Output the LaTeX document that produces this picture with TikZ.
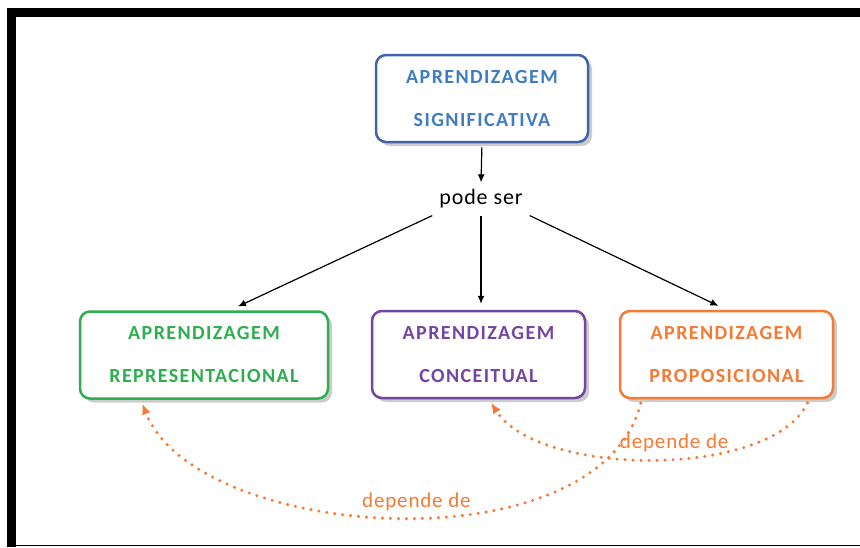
\documentclass[tikz,border=0pt]{standalone}
\usepackage{fontspec}
\setmainfont{Carlito}
\newfontfamily\largo[LetterSpace=7]{Carlito}
\newfontfamily\medio[LetterSpace=4]{Carlito}
\usepackage{tikz}
\usetikzlibrary{positioning,arrows.meta,shadows}
\usepackage{xcolor}
\definecolor{azulborda}{HTML}{4262AA}
\definecolor{azultexto}{HTML}{3F7CC2}
\definecolor{verde}{HTML}{2FAE50}
\definecolor{roxo}{HTML}{7446A0}
\definecolor{laranja}{HTML}{F47A36}

\begin{document}
\begin{tikzpicture}[x=1pt,y=-1pt,
    caixa/.style={draw, rounded corners=10pt, line width=2.5pt, fill=white,
        align=center, inner sep=0pt, minimum height=87pt,
        font=\largo\bfseries\fontsize{20}{43}\selectfont,
        drop shadow={shadow xshift=4pt, shadow yshift=-4pt, fill=black!40}},
    seta/.style={-{Latex[length=8pt,width=7pt]}, line width=1.2pt},
    depende/.style={draw=laranja, line width=3.4pt, line cap=round,
        dash pattern=on 0pt off 8pt, -{Latex[length=11pt,width=9pt]}},
    rotulo/.style={text=laranja, font=\medio\fontsize{21}{24}\selectfont}]
    \useasboundingbox (0,0) rectangle (860,547);
    % moldura
    \fill (7,8) rectangle (860,17);
    \fill (7,8) rectangle (16,547);
    \draw[line width=1.5pt] (16,545.5) -- (860,545.5);
    % conceito principal
    \node[caixa, draw=azulborda, text=azultexto, minimum width=212pt] (sig) at (482,98.5) {APRENDIZAGEM\\SIGNIFICATIVA};
    \node[font=\medio\fontsize{22}{26}\selectfont, inner sep=7pt] (pode) at (481,199) {pode ser};
    % tipos
    \node[caixa, draw=verde, text=verde, minimum width=248pt] (rep) at (204,355) {APRENDIZAGEM\\REPRESENTACIONAL};
    \node[caixa, draw=roxo, text=roxo, minimum width=213pt] (conc) at (478.5,354.5) {APRENDIZAGEM\\CONCEITUAL};
    \node[caixa, draw=laranja, text=laranja, minimum width=213pt] (prop) at (726.5,354.5) {APRENDIZAGEM\\PROPOSICIONAL};
    % setas
    \draw[seta, shorten <=4pt] (sig.south) -- (pode.north);
    \draw[seta, shorten >=9pt] (pode.south west) -- (rep.60);
    \draw[seta, shorten >=6pt] (pode.south) -- (pode.south |- conc.north);
    \draw[seta, shorten >=9pt] (pode.south east) -- (prop.north);
    % depende de
    \draw[depende, shorten <=4pt, shorten >=4pt] ([xshift=23pt]prop.south west)
        .. controls +(-43,170) and +(56,142) .. ([xshift=62pt]rep.south west)
        node[rotulo, pos=0.47, above=1pt] {depende de};
    \draw[depende, shorten <=4pt, shorten >=4pt] ([xshift=-25pt]prop.south east)
        .. controls +(-38,80) and +(50,78) .. ([xshift=118pt]conc.south west)
        node[rotulo, pos=0.45, above=1pt] {depende de};
\end{tikzpicture}
\end{document}
